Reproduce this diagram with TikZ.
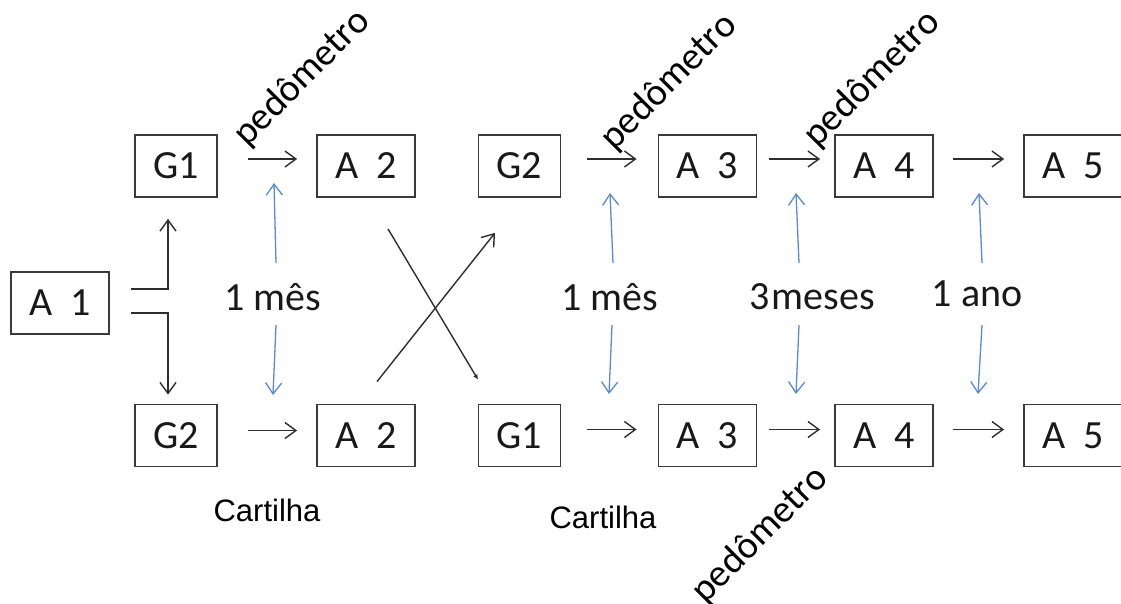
\documentclass[tikz,border=0pt]{standalone}
\usepackage{fontspec}
\setmainfont{Carlito}
\newfontfamily\arialf{Liberation Sans}
\usetikzlibrary{arrows.meta}
\definecolor{boxc}{HTML}{3A3A3A}
\definecolor{arrc}{HTML}{2E2E2E}
\definecolor{bluec}{HTML}{5B8BC8}
\begin{document}
\begin{tikzpicture}[x=1pt,y=-1pt,
  box/.style={draw=boxc, line width=1.8pt, minimum width=98pt, minimum height=62pt, inner sep=0pt, font=\fontsize{40}{48}\selectfont, text=black!90},
  nbox/.style={box, minimum width=82pt},
  arr/.style={draw=arrc, line width=1.4pt, -{Straight Barb[length=11pt,width=16pt,line width=1.4pt]}},
  xarr/.style={draw=arrc, line width=1.4pt},
  barr/.style={draw=bluec, line width=1.3pt, -{Straight Barb[length=11pt,width=16pt,line width=1.3pt]}},
  lbl/.style={inner sep=0pt, font=\fontsize{40}{48}\selectfont, text=black!90},
  ped/.style={inner sep=0pt, rotate=45, font=\fontsize{38.5}{46}\selectfont, text=black},
  cart/.style={inner sep=0pt, font=\arialf\fontsize{31}{37}\selectfont, text=black}
]
\useasboundingbox[fill=white] (0,0) rectangle (1121,604);

% boxes
\node[box, minimum height=62pt] (a1) at (60,303) {A~~1};
\node[nbox] (g1t) at (176,166) {G1};
\node[box]  (a2t) at (366,166) {A~~2};
\node[nbox] (g2t) at (519.5,166) {G2};
\node[box]  (a3t) at (707.5,166) {A~~3};
\node[box]  (a4t) at (884,166) {A~~4};
\node[box]  (a5t) at (1073,166) {A~~5};

\node[nbox] (g2b) at (176,435.5) {G2};
\node[box]  (a2b) at (366,435.5) {A~~2};
\node[nbox] (g1b) at (519.5,435.5) {G1};
\node[box]  (a3b) at (707.5,435.5) {A~~3};
\node[box]  (a4b) at (884,435.5) {A~~4};
\node[box]  (a5b) at (1073,435.5) {A~~5};

% A1 branches
\draw[arr] ([xshift=21pt,yshift=14pt]a1.east) -| ([xshift=-8pt,yshift=-21pt]g1t.south);
\draw[arr] ([xshift=21pt,yshift=-10pt]a1.east) -| ([xshift=-8pt,yshift=9pt]g2b.north);

% top row arrows
\draw[arr, shorten <=30pt, shorten >=19pt] ([yshift=7pt]g1t.east) -- ([yshift=7pt]a2t.west);
\draw[arr, shorten <=26pt, shorten >=21pt] ([yshift=7pt]g2t.east) -- ([yshift=7pt]a3t.west);
\draw[arr, shorten <=12pt, shorten >=14pt] ([yshift=7pt]a3t.east) -- ([yshift=7pt]a4t.west);
\draw[arr, shorten <=19pt, shorten >=19pt] ([yshift=7pt]a4t.east) -- ([yshift=7pt]a5t.west);

% bottom row arrows
\draw[arr, shorten <=30pt, shorten >=19pt] ([yshift=5pt]g2b.east) -- ([yshift=5pt]a2b.west);
\draw[arr, shorten <=26pt, shorten >=21pt] ([yshift=6pt]g1b.east) -- ([yshift=6pt]a3b.west);
\draw[arr, shorten <=12pt, shorten >=14pt] ([yshift=6pt]a3b.east) -- ([yshift=6pt]a4b.west);
\draw[arr, shorten <=19pt, shorten >=19pt] ([yshift=6pt]a4b.east) -- ([yshift=6pt]a5b.west);

% crossing arrows
\draw[xarr, -{Latex[length=5pt,width=5pt]}] ([xshift=22pt,yshift=-31pt]a2t.south) -- ([xshift=-41.5pt,yshift=24pt]g1b.north);
\draw[arr] ([xshift=11pt,yshift=22pt]a2b.north) -- ([xshift=-24.5pt,yshift=-35pt]g2t.south);

% interval labels and blue arrows
\node[lbl] (m1) at (273,297) {1 mês};
\node[lbl] (m2) at (610,297) {1 mês};
\node[lbl] (m3) at (812,297) {3\kern2pt meses};
\node[lbl] (m4) at (977,294) {1 ano};

\coordinate (b1a) at (274,183); \coordinate (b1b) at (276,263);
\coordinate (b1c) at (276,325); \coordinate (b1d) at (273,395);
\coordinate (b2a) at (610,193); \coordinate (b2b) at (613,263);
\coordinate (b2c) at (612,325); \coordinate (b2d) at (609,394);
\coordinate (b3a) at (796,193); \coordinate (b3b) at (799,263);
\coordinate (b3c) at (799,325); \coordinate (b3d) at (796,394);
\coordinate (b4a) at (979,193); \coordinate (b4b) at (982,263);
\coordinate (b4c) at (982,325); \coordinate (b4d) at (978,394);

\draw[barr] (b1b) -- (b1a); \draw[barr] (b1c) -- (b1d);
\draw[barr] (b2b) -- (b2a); \draw[barr] (b2c) -- (b2d);
\draw[barr] (b3b) -- (b3a); \draw[barr] (b3c) -- (b3d);
\draw[barr] (b4b) -- (b4a); \draw[barr] (b4c) -- (b4d);

% pedometro labels
\node[ped] (p1) at (302,78) {pedômetro};
\node[ped] (p2) at (669,82) {pedômetro};
\node[ped] (p3) at (872,79) {pedômetro};
\node[ped] (p4) at (760,535) {pedômetro};

% cartilha labels
\node[cart] (c1) at (267,510) {Cartilha};
\node[cart] (c2) at (603,517) {Cartilha};
\end{tikzpicture}
\end{document}
